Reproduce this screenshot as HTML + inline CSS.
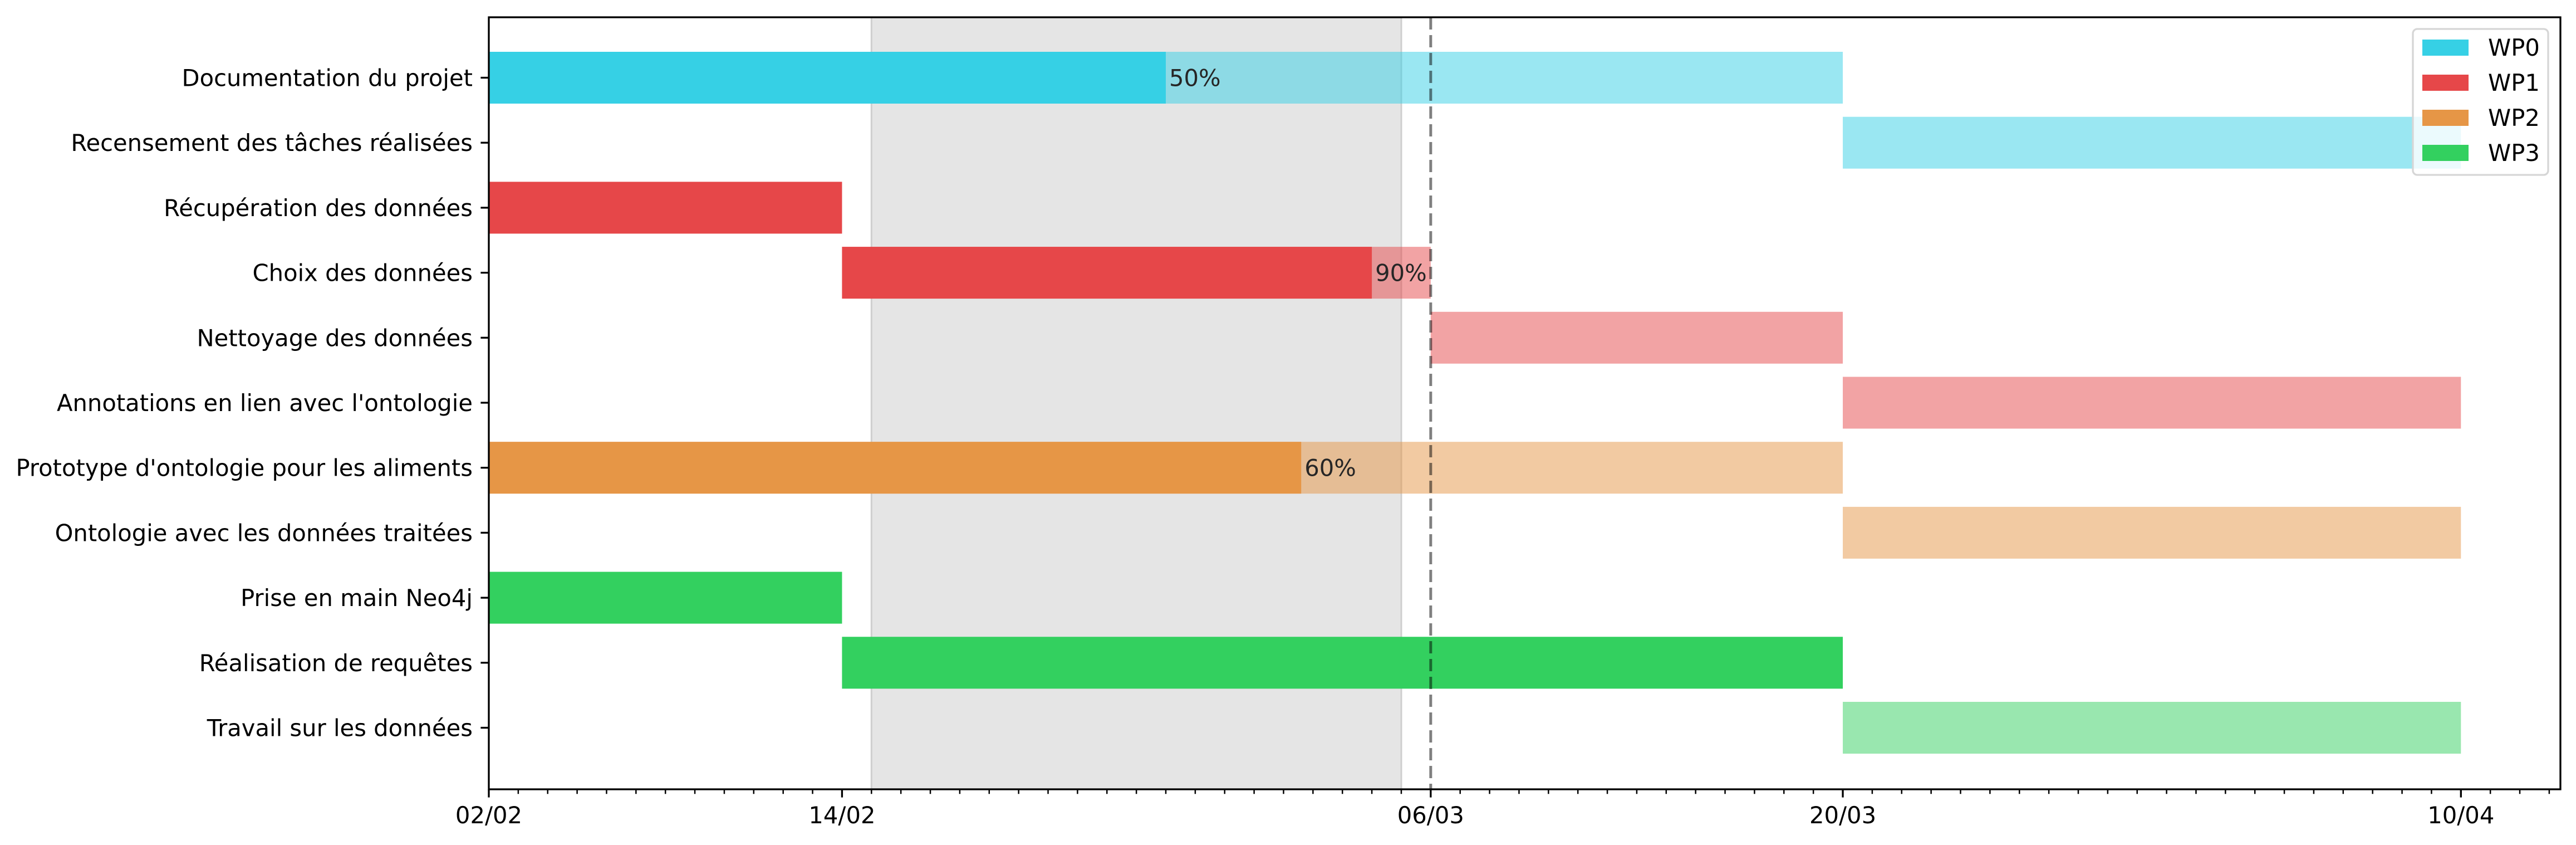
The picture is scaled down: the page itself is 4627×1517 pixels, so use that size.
<!DOCTYPE html>
<html><head><meta charset="utf-8"><style>
html,body{margin:0;padding:0;background:#fff;}
svg{display:block;font-family:"DejaVu Sans","Liberation Sans",sans-serif;}
</style></head><body>
<svg id="chart" width="4627" height="1517" viewBox="0 0 4627 1517" xmlns="http://www.w3.org/2000/svg">
<rect width="4627" height="1517" fill="#fff"/>
<g id="plot"></g>
</svg>
<script>
const tasks = ["Documentation du projet","Recensement des tâches réalisées","Récupération des données","Choix des données","Nettoyage des données","Annotations en lien avec l'ontologie","Prototype d'ontologie pour les aliments","Ontologie avec les données traitées","Prise en main Neo4j","Réalisation de requêtes","Travail sur les données"];
const wp = [0,0,1,1,1,1,2,2,3,3,3];
const startDay = [0,46,0,12,32,46,0,46,0,12,46];
const endDay = [46,67,12,32,46,67,46,67,12,46,67];
const progress = [50,0,100,90,0,0,60,0,100,100,0];
const tickDays = [0,12,32,46,67];
const tickLabels = ["02/02","14/02","06/03","20/03","10/04"];
const shadeRange = [13,31];
const todayDay = 32;
const wpNames = ["WP0","WP1","WP2","WP3"];
const wpColors = ["#36d0e5","#e64749","#e69646","#33d05f"];

const NS="http://www.w3.org/2000/svg";
const L=878,R=4599,T=31,B=1417;
const xMax=70.38;
const x=d=>L+d*(R-L)/xMax;
const rowH=116.7, y0=139.5;
const y=i=>y0+i*rowH;
const barH=93;
const g=document.getElementById('plot');
function mk(tag,attrs,parent){const e=document.createElementNS(NS,tag);for(const k in attrs)e.setAttribute(k,attrs[k]);(parent||g).appendChild(e);return e;}

let sh=mk('rect',{x:x(shadeRange[0]),y:T,width:x(shadeRange[1])-x(shadeRange[0]),height:B-T,fill:'#e5e5e5',stroke:'#cfcfcf','stroke-width':3});



tasks.forEach((t,i)=>{
  const c=wpColors[wp[i]];
  const s=startDay[i],e=endDay[i];
  const d=s+(e-s)*progress[i]/100;
  const full=mk('rect',{x:x(s),y:y(i)-barH/2,width:x(e)-x(s),height:barH,fill:c,'fill-opacity':0.5});
  
  
  if(progress[i]>0){
    const done=mk('rect',{x:x(s),y:y(i)-barH/2,width:x(d)-x(s),height:barH,fill:c});
    
    
  }
  if(progress[i]>0&&progress[i]<100){
    const tx=mk('text',{x:x(d)+6,y:y(i)+15,'font-size':41.7,fill:'#262626'});
    tx.textContent=progress[i]+'%';
    
    
  }
  const tk=mk('line',{x1:L-14.6,x2:L,y1:y(i),y2:y(i),stroke:'#000','stroke-width':3.3});
  
  
  const lb=mk('text',{x:L-29,y:y(i)+15,'font-size':41.7,'text-anchor':'end',fill:'#000'});
  lb.textContent=t;
  
  
});

const tl=mk('line',{x1:x(todayDay),x2:x(todayDay),y1:T,y2:B,stroke:'#000','stroke-opacity':0.5,'stroke-width':5,'stroke-dasharray':'22 10'});



const sp=mk('rect',{x:L,y:T,width:R-L,height:B-T,fill:'none',stroke:'#000','stroke-width':3.3});



for(let d=0;d<=70;d++){
  const m=mk('line',{x1:x(d),x2:x(d),y1:B,y2:B+8.3,stroke:'#000','stroke-width':2.5});
  
  
}
tickDays.forEach((d,i)=>{
  const m=mk('line',{x1:x(d),x2:x(d),y1:B,y2:B+14.6,stroke:'#000','stroke-width':3.3});
  
  
  const t=mk('text',{x:x(d),y:B+61,'font-size':41.7,'text-anchor':'middle',fill:'#000'});
  t.textContent=tickLabels[i];
  
  
});

const lg=mk('g',{});


const lf=mk('rect',{x:4334,y:52,width:243,height:262,rx:8,fill:'#fff','fill-opacity':0.8,stroke:'#d6d6d6','stroke-width':3.3},lg);


wpNames.forEach((n,i)=>{
  const e=mk('g',{},lg);
  
  
  mk('rect',{x:4351,y:71+i*63,width:83,height:29,fill:wpColors[i]},e);
  const t=mk('text',{x:4469,y:100+i*63,'font-size':41.7,fill:'#000'},e);
  t.textContent=n;
});
</script>
</body></html>
